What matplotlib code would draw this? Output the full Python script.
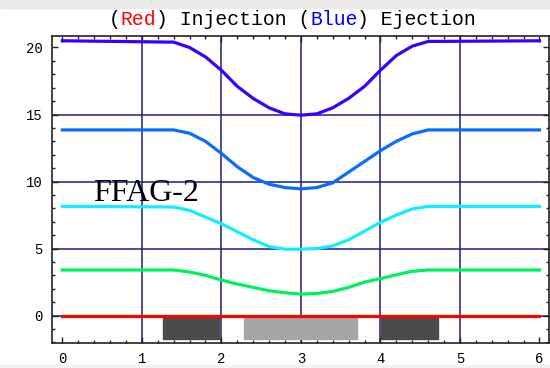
import numpy as np
import matplotlib
matplotlib.use('Agg')
import matplotlib.pyplot as plt
import matplotlib.patches as mpatches
from matplotlib.ticker import MultipleLocator

x = [0, 1.4, 1.6, 1.8, 2.0, 2.2, 2.4, 2.6, 2.8, 3.0,
     3.2, 3.4, 3.6, 3.8, 4.0, 4.2, 4.4, 4.6, 6]

# ejection side (top) down to injection (bottom)
orbit1 = [20.5, 20.4, 20.0, 19.3, 18.3, 17.1, 16.2, 15.5, 15.05, 14.95,
          15.05, 15.5, 16.2, 17.1, 18.3, 19.4, 20.1, 20.45, 20.5]
orbit2 = [13.85, 13.85, 13.6, 13.0, 12.1, 11.1, 10.3, 9.8, 9.55, 9.45,
          9.55, 9.9, 10.7, 11.5, 12.3, 13.0, 13.55, 13.85, 13.85]
orbit3 = [8.15, 8.1, 7.85, 7.35, 6.85, 6.25, 5.65, 5.15, 4.95, 4.95,
          5.0, 5.2, 5.65, 6.3, 6.95, 7.5, 7.95, 8.15, 8.15]
orbit4 = [3.4, 3.4, 3.25, 3.0, 2.65, 2.35, 2.1, 1.85, 1.7, 1.6,
          1.65, 1.8, 2.1, 2.5, 2.75, 3.05, 3.3, 3.4, 3.4]
orbit5 = [0, 0, 0, 0, 0, 0, 0, 0, 0, 0,
          0, 0, 0, 0, 0, 0, 0, 0, 0]

orbits = [orbit1, orbit2, orbit3, orbit4, orbit5]
colors = ['#3a00ff', '#0a6cff', '#12eeff', '#00f060', '#ff0000']

# magnets: start, end, depth, colour
mag_start = [1.27, 2.29, 4.01]
mag_end = [1.97, 3.70, 4.72]
mag_depth = [-1.75, -1.75, -1.75]
mag_color = ['#4b4b4b', '#a6a6a6', '#4b4b4b']

# title pieces: text, colour
title_parts = ['(', 'Red', ') Injection (', 'Blue', ') Ejection']
title_cols = ['black', '#ff0000', 'black', '#0000ff', 'black']

grid_col = '#1c1c86'

fig = plt.figure(figsize=(5.5, 3.68), dpi=100)
fig.patch.set_facecolor('white')
fig.patches.append(mpatches.Rectangle((0, 1 - 8/368), 1, 8/368,
                                      transform=fig.transFigure,
                                      color='#ebebe9', zorder=0))
fig.patches.append(mpatches.Rectangle((0, 0), 1, 3/368,
                                      transform=fig.transFigure,
                                      color='#f2f2ee', zorder=0))

ax = fig.add_axes([52/550, 1 - 343.3/368, 497/550, (343.3 - 35.7)/368])
ax.set_xlim(-0.13, 6.12)
ax.set_ylim(-2.07, 20.88)

for v in [1, 2, 3, 4, 5]:
    ax.axvline(v, color=grid_col, lw=1.1, zorder=1)
for h in [0, 5, 10, 15]:
    ax.axhline(h, color=grid_col, lw=1.1, zorder=1)

for s, e, d, c in zip(mag_start, mag_end, mag_depth, mag_color):
    ax.add_patch(mpatches.Rectangle((s, d), e - s, -d, color=c, zorder=2))

for y, c in zip(orbits, colors):
    ax.plot(x, y, color=c, lw=2.3, zorder=3)

ax.text(0.39, 8.55, 'FFAG-2', fontsize=23, family='Liberation Serif',
        color='black', zorder=4)

ax.xaxis.set_major_locator(MultipleLocator(1))
ax.xaxis.set_minor_locator(MultipleLocator(0.2))
ax.yaxis.set_major_locator(MultipleLocator(5))
ax.yaxis.set_minor_locator(MultipleLocator(1))
ax.tick_params(which='both', direction='in', top=True, right=True,
               color='#222222')
ax.tick_params(which='major', length=4, width=1)
ax.tick_params(which='minor', length=2, width=1)
ax.tick_params(axis='x', pad=6)
ax.tick_params(axis='y', pad=7)
for lab in ax.get_xticklabels() + ax.get_yticklabels():
    lab.set_family('Liberation Mono')
    lab.set_fontsize(10)
for sp in ax.spines.values():
    sp.set_color('#222222')
    sp.set_linewidth(1.2)

# monospace title, pieces placed side by side by character count
fs = 14.2
cw = 0.6 * fs * 100 / 72 / 550
tx, ty = 109/550, 1 - 24.6/368
n = 0
for part, c in zip(title_parts, title_cols):
    fig.text(tx + n * cw, ty, part, family='Liberation Mono',
             fontsize=fs, color=c, va='baseline')
    n += len(part)

fig.savefig('out.png', dpi=100)
